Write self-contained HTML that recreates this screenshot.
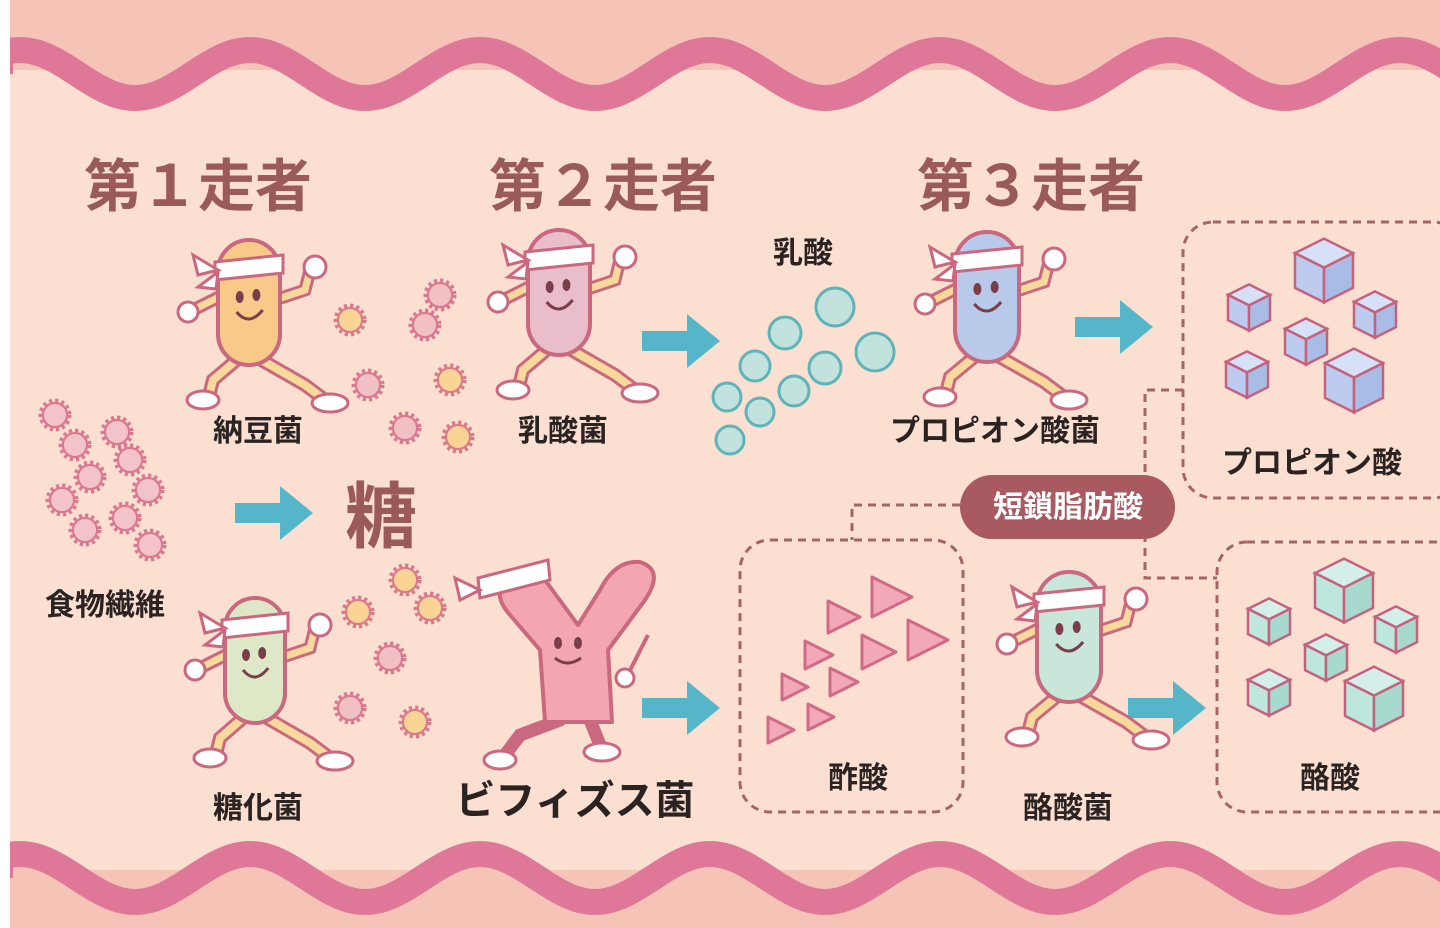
<!DOCTYPE html>
<html><head><meta charset="utf-8"><style>
html,body{margin:0;padding:0;background:#fff}
svg{display:block}
text{font-family:"Liberation Sans","Noto Sans CJK JP",sans-serif;font-weight:700}
</style></head><body>
<svg id="s" width="1440" height="928" viewBox="0 0 1440 928" xmlns="http://www.w3.org/2000/svg">
<rect x="10" y="0" width="1430" height="928" fill="#fbe0d2"/>
<rect x="10" y="0" width="1430" height="70" fill="#f6c4b7"/>
<rect x="10" y="870" width="1430" height="58" fill="#f6c4b7"/>
<g id="waves"></g>
<g id="draw"></g>
<g fill="#9b5a5a" font-size="57">
<text x="84" y="206">第１走者</text>
<text x="489" y="206">第２走者</text>
<text x="917" y="206">第３走者</text>
<text x="345" y="542" font-size="72">糖</text>
</g>
<g fill="#2b2222" font-size="30" text-anchor="middle">
<text x="258" y="441">納豆菌</text>
<text x="563" y="441">乳酸菌</text>
<text x="803" y="263">乳酸</text>
<text x="995" y="441">プロピオン酸菌</text>
<text x="1312" y="473">プロピオン酸</text>
<text x="105" y="615">食物繊維</text>
<text x="258" y="818">糖化菌</text>
<text x="575" y="814" font-size="40">ビフィズス菌</text>
<text x="858" y="788">酢酸</text>
<text x="1330" y="788">酪酸</text>
<text x="1068" y="818">酪酸菌</text>
</g>
<rect x="960" y="475" width="215" height="64" rx="32" fill="#a85a60"/>
<text x="1068" y="517" font-size="30" fill="#fff" text-anchor="middle">短鎖脂肪酸</text>
</svg>
<script>
const NS="http://www.w3.org/2000/svg",D=document.getElementById('draw'),W=document.getElementById('waves');
function el(t,a,p){const e=document.createElementNS(NS,t);for(const k in a)e.setAttribute(k,a[k]);(p||D).appendChild(e);return e}
function wave(cy){let d="M0 "+cy;for(let x=0;x<=1480;x+=5){d+=" L"+x+" "+(cy+24*Math.sin((x-20)/230*2*Math.PI-Math.PI/2)).toFixed(1)}
 el('path',{d:d,fill:'none',stroke:'#df7898','stroke-width':26},W);}
el('path',{d:(()=>{let d="M0 0";for(let x=0;x<=1480;x+=5)d+=" L"+x+" "+(74+24*Math.sin((x-20)/230*2*Math.PI-Math.PI/2)).toFixed(1);return d+" L1480 0Z"})(),fill:'#f6c4b7'},W);
wave(74);
el('path',{d:(()=>{let d="M0 928";for(let x=0;x<=1480;x+=5)d+=" L"+x+" "+(878+24*Math.sin((x-20)/230*2*Math.PI-Math.PI/2)).toFixed(1);return d+" L1480 928Z"})(),fill:'#f6c4b7'},W);
wave(878);
el('rect',{x:0,y:0,width:10,height:928,fill:'#fff'},W);
function part(x,y,r,f){el('circle',{cx:x,cy:y,r:r,fill:f,stroke:'#d9788e','stroke-width':5,'stroke-dasharray':'3 3'});el('circle',{cx:x,cy:y,r:r-2,fill:f,stroke:'#d9788e','stroke-width':2});}
const Y='#f9d494',P='#f1c0c4',PK='#f2c3c8';
[[350,320,Y],[440,295,P],[425,325,P],[368,385,P],[450,380,Y],[405,428,P],[458,437,Y]].forEach(a=>part(a[0],a[1],14,a[2]));
[[55,415],[117,432],[75,445],[130,460],[90,477],[148,490],[62,500],[125,518],[85,530],[150,545]].forEach(a=>part(a[0],a[1],14,PK));
[[405,580,Y],[430,608,Y],[358,612,Y],[390,658,P],[350,708,P],[415,722,Y]].forEach(a=>part(a[0],a[1],14,a[2]));
[[835,307,19],[785,333,16],[875,352,19],[755,366,15],[825,368,16],[727,397,14],[794,391,15],[760,412,14],[730,440,14]].forEach(a=>el('circle',{cx:a[0],cy:a[1],r:a[2],fill:'#c2e2dd',stroke:'#60b3b8','stroke-width':3}));
function arrow(x,y){el('path',{d:`M${x} ${y-10}h45v-17l33 27l-33 27v-17h-45z`,fill:'#56b6c9'});}
arrow(642,341);arrow(1075,327);arrow(235,513);arrow(642,708);arrow(1128,708);
const dash={fill:'none',stroke:'#a56467','stroke-width':3,'stroke-dasharray':'8 6'};
el('rect',Object.assign({x:1183,y:222,width:280,height:276,rx:30},dash));
el('rect',Object.assign({x:740,y:540,width:223,height:272,rx:30},dash));
el('rect',Object.assign({x:1217,y:542,width:250,height:270,rx:30},dash));
el('path',Object.assign({d:'M960 505H852V540'},dash));
el('path',Object.assign({d:'M1183 390H1145V578H1217'},dash));
function cube(x,y,s,top,side,front){const h=s/2;
 el('path',{d:`M${x} ${y-s*0.55}l${s*0.5} ${-h*0.5}l${s*0.5} ${h*0.5}l${-s*0.5} ${h*0.5}z`,fill:top,stroke:'#c4627e','stroke-width':2.5});
 el('path',{d:`M${x} ${y-s*0.55}l${s*0.5} ${h*0.5}v${s*0.6}l${-s*0.5} ${-h*0.5}z`,fill:front,stroke:'#c4627e','stroke-width':2.5});
 el('path',{d:`M${x+s} ${y-s*0.55}l${-s*0.5} ${h*0.5}v${s*0.6}l${s*0.5} ${-h*0.5}z`,fill:side,stroke:'#c4627e','stroke-width':2.5});}
[[1295,285,58],[1228,318,42],[1354,325,42],[1285,352,42],[1226,385,42],[1325,395,58]].forEach(a=>cube(a[0],a[1],a[2],'#d6e0f6','#a8bce6','#bccbef'));
[[1315,605,58],[1248,632,42],[1375,640,42],[1305,668,42],[1248,703,42],[1345,713,58]].forEach(a=>cube(a[0],a[1],a[2],'#d4efe9','#a8d9cf','#bde6dd'));
function tri(x,y,s){el('path',{d:`M${x} ${y-s/2}L${x+s} ${y}L${x} ${y+s/2}Z`,fill:'#f3a8b8',stroke:'#d06a86','stroke-width':3,'stroke-linejoin':'round'});}
[[872,597,40],[828,617,32],[908,640,40],[862,652,34],[805,655,28],[782,687,26],[830,682,28],[808,717,26],[768,730,26]].forEach(a=>tri(a[0],a[1],a[2]));
function chr(x,y,w,h,c){const O='#c9687e',L='#f7d99b';
 el('path',{d:`M${x+w*0.3} ${y+h-5}L${x-5} ${y+h+15}L${x-10} ${y+h+35}`,fill:'none',stroke:O,'stroke-width':14,'stroke-linecap':'round'});
 el('path',{d:`M${x+w*0.3} ${y+h-5}L${x-5} ${y+h+15}L${x-10} ${y+h+35}`,fill:'none',stroke:L,'stroke-width':8,'stroke-linecap':'round'});
 el('path',{d:`M${x+w*0.7} ${y+h-5}L${x+w+25} ${y+h+20}L${x+w+45} ${y+h+35}`,fill:'none',stroke:O,'stroke-width':14,'stroke-linecap':'round'});
 el('path',{d:`M${x+w*0.7} ${y+h-5}L${x+w+25} ${y+h+20}L${x+w+45} ${y+h+35}`,fill:'none',stroke:L,'stroke-width':8,'stroke-linecap':'round'});
 el('ellipse',{cx:x-15,cy:y+h+35,rx:16,ry:9,fill:'#fff',stroke:O,'stroke-width':3});
 el('ellipse',{cx:x+w+50,cy:y+h+38,rx:18,ry:9,fill:'#fff',stroke:O,'stroke-width':3});
 el('path',{d:`M${x+5} ${y+55}L${x-25} ${y+70}`,stroke:O,'stroke-width':13,'stroke-linecap':'round'});
 el('path',{d:`M${x+5} ${y+55}L${x-25} ${y+70}`,stroke:L,'stroke-width':7,'stroke-linecap':'round'});
 el('path',{d:`M${x+w-5} ${y+60}L${x+w+25} ${y+50}L${x+w+30} ${y+30}`,fill:'none',stroke:O,'stroke-width':13,'stroke-linecap':'round'});
 el('path',{d:`M${x+w-5} ${y+60}L${x+w+25} ${y+50}L${x+w+30} ${y+30}`,fill:'none',stroke:L,'stroke-width':7,'stroke-linecap':'round'});
 el('circle',{cx:x-30,cy:y+72,r:10,fill:'#fff',stroke:O,'stroke-width':3});
 el('circle',{cx:x+w+35,cy:y+27,r:11,fill:'#fff',stroke:O,'stroke-width':3});
 el('rect',{x:x,y:y,width:w,height:h,rx:w/2,fill:c,stroke:O,'stroke-width':4});
 el('path',{d:`M${x-3} ${y+22}L${x+w+3} ${y+15}L${x+w+3} ${y+33}L${x-3} ${y+40}Z`,fill:'#fff',stroke:O,'stroke-width':3});
 el('path',{d:`M${x} ${y+30}l-25 -15l5 20z M${x} ${y+32}l-20 15l18 2z`,fill:'#fff',stroke:O,'stroke-width':3});
 el('ellipse',{cx:x+w*0.35,cy:y+57,rx:4,ry:6,fill:'#7a3d4a'});
 el('ellipse',{cx:x+w*0.62,cy:y+55,rx:4,ry:6,fill:'#7a3d4a'});
 el('path',{d:`M${x+w*0.3} ${y+72}q${w*0.2} 15 ${w*0.42} -2`,fill:'none',stroke:'#7a3d4a','stroke-width':3});}
chr(218,240,62,125,'#f9c98a');
chr(528,230,62,125,'#e9bdca');
chr(955,232,64,130,'#b8c9ea');
chr(225,598,60,125,'#dfe8c6');
chr(1037,572,64,130,'#c8e6da');
(function(){const O='#c9687e';
 el('path',{d:'M560 720L520 735L505 755',fill:'none',stroke:O,'stroke-width':13,'stroke-linecap':'round'});
 el('path',{d:'M590 720L600 745',fill:'none',stroke:O,'stroke-width':13,'stroke-linecap':'round'});
 el('path',{d:'M545 722L612 722L608 650L645 600Q665 570 640 562Q615 560 600 590L578 625L545 580Q525 560 505 578Q492 595 510 615L540 650Z',fill:'#f3a6b2',stroke:O,'stroke-width':4,'stroke-linejoin':'round'});
 el('path',{d:'M478 578L548 560L550 580L480 598Z',fill:'#fff',stroke:O,'stroke-width':3});
 el('path',{d:'M480 590l-25 -12l5 22z',fill:'#fff',stroke:O,'stroke-width':3});
 el('ellipse',{cx:500,cy:760,rx:16,ry:9,fill:'#fff',stroke:O,'stroke-width':3});
 el('ellipse',{cx:602,cy:752,rx:18,ry:9,fill:'#fff',stroke:O,'stroke-width':3});
 el('path',{d:'M625 680L648 635',stroke:O,'stroke-width':4});
 el('circle',{cx:625,cy:678,r:9,fill:'#fff',stroke:O,'stroke-width':3});
 el('ellipse',{cx:558,cy:643,rx:4,ry:6,fill:'#7a3d4a'});el('ellipse',{cx:578,cy:643,rx:4,ry:6,fill:'#7a3d4a'});
 el('path',{d:'M555 658q12 10 26 0',fill:'none',stroke:'#7a3d4a','stroke-width':3});
})();
</script>
</body></html>
